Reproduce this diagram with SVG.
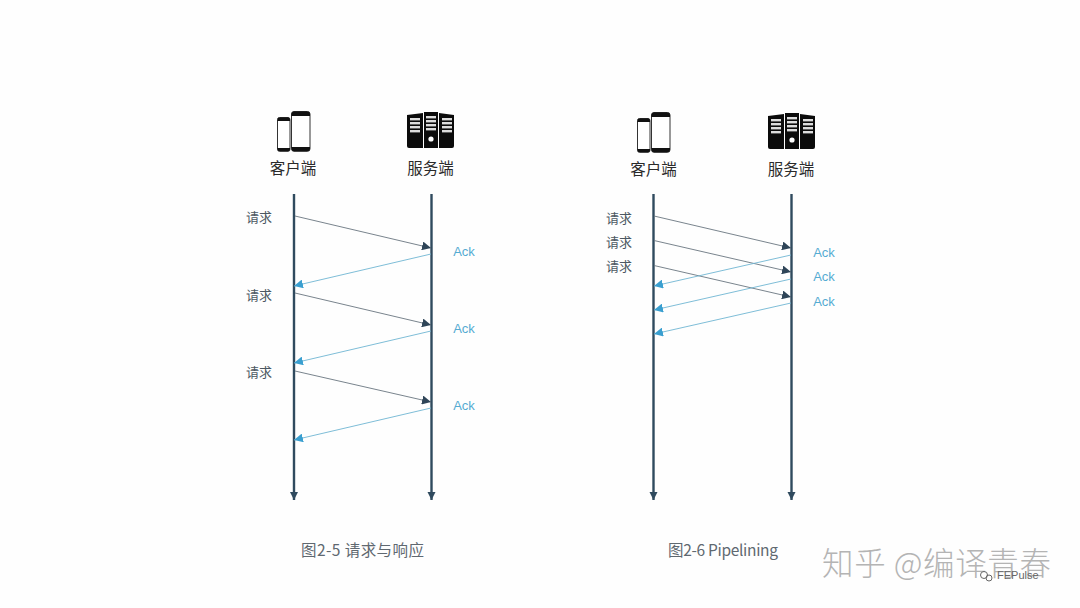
<svg xmlns="http://www.w3.org/2000/svg" width="1080" height="608" viewBox="0 0 1080 608">
<style>
text{font-family:"Liberation Sans","Noto Sans CJK SC",sans-serif}
.cjk{font-family:"Noto Sans CJK SC","Liberation Sans",sans-serif}
.title{font-size:15.5px;fill:#2a2a2a;text-anchor:middle}
.req{font-size:13px;fill:#4c5862;text-anchor:middle}
.ack{font-size:13px;fill:#55abd2;text-anchor:middle}
.cap{font-size:15.500px;fill:#5f6870;text-anchor:middle}
.life{stroke:#2f4a5e;stroke-width:2.4;fill:none;marker-end:url(#lifeEnd)}
.send{stroke:#6a7680;stroke-width:.9;fill:none;marker-end:url(#sendEnd)}
.back{stroke:#6fb6d2;stroke-width:.9;fill:none;marker-end:url(#backEnd)}
.wm{font-size:31.500px;font-weight:300;fill:#b4b4b4}
</style>
<defs>
<marker id="lifeEnd" markerUnits="userSpaceOnUse" markerWidth="9" markerHeight="10" refX="8" refY="4" orient="auto"><path d="M0 0L8 4L0 8Z" fill="#2f4a5e"/></marker>
<marker id="sendEnd" markerUnits="userSpaceOnUse" markerWidth="10" markerHeight="9" refX="9" refY="4.500" orient="auto"><path d="M0 0L9 4.500L0 9Z" fill="#2f4558"/></marker>
<marker id="backEnd" markerUnits="userSpaceOnUse" markerWidth="10" markerHeight="9" refX="9" refY="4.500" orient="auto"><path d="M0 0L9 4.500L0 9Z" fill="#3a9fd0"/></marker>
<g id="phones">
<rect x="0.500" y="6.500" width="12.500" height="33.800" rx="2" fill="#fff" stroke="#333" stroke-width="1"/>
<path d="M0.500 10V8.500Q0.500 6.500 2.500 6.500H11Q13 6.500 13 8.500V10ZM0.500 37H13V38.500Q13 40.300 11 40.300H2.500Q0.500 40.300 0.500 38.500Z" fill="#111"/>
<rect x="14.500" y="0.500" width="18.500" height="39.800" rx="2.500" fill="#fff" stroke="#333" stroke-width="1"/>
<path d="M14.500 5V3Q14.500 0.500 17 0.500H30.500Q33 0.500 33 3V5ZM14.500 36H33V38Q33 40.300 30.500 40.300H17Q14.500 40.300 14.500 38Z" fill="#111"/>
</g>
<g id="servers">
<path d="M0 3L16 1V36H2Q0 36 0 34Z" fill="#0b0b0b"/>
<path d="M47 3L32 1V36H45Q47 36 47 34Z" fill="#0b0b0b"/>
<rect x="17" y="0" width="14" height="36" fill="#0b0b0b"/>
<g fill="#ddd"><rect x="3" y="6" width="10" height="2.400"/><rect x="3" y="10" width="10" height="2.400"/><rect x="3" y="14" width="10" height="2.400"/><rect x="3" y="18" width="10" height="2.400"/><rect x="19" y="4" width="10" height="2.400"/><rect x="19" y="8" width="10" height="2.400"/><rect x="19" y="12" width="10" height="2.400"/><rect x="19" y="16" width="10" height="2.400"/><rect x="35" y="6" width="10" height="2.400"/><rect x="35" y="10" width="10" height="2.400"/><rect x="35" y="14" width="10" height="2.400"/><rect x="35" y="18" width="10" height="2.400"/></g>
<circle cx="24" cy="27" r="2.600" fill="#fff"/>
</g>
</defs>
<rect width="1080" height="608" fill="#fefefe"/>
<g id="connectors">
<line class="life" x1="294" y1="194" x2="294" y2="500"/>
<line class="life" x1="431.500" y1="194" x2="431.500" y2="500"/>
<line class="life" x1="653.500" y1="194" x2="653.500" y2="500"/>
<line class="life" x1="791.500" y1="194" x2="791.500" y2="500"/>
<line class="send" x1="295" y1="216" x2="431" y2="248"/>
<line class="back" x1="431" y1="254" x2="294" y2="286"/>
<line class="send" x1="295" y1="293" x2="431" y2="325"/>
<line class="back" x1="431" y1="331" x2="294" y2="363"/>
<line class="send" x1="295" y1="371" x2="431" y2="402"/>
<line class="back" x1="431" y1="408" x2="294" y2="440"/>
<line class="send" x1="654" y1="216" x2="791" y2="248"/>
<line class="send" x1="654" y1="240.500" x2="791" y2="272"/>
<line class="send" x1="654" y1="265.500" x2="791" y2="297"/>
<line class="back" x1="791" y1="255" x2="654" y2="286"/>
<line class="back" x1="791" y1="279" x2="654" y2="310"/>
<line class="back" x1="791" y1="303" x2="654" y2="334"/>
</g>
<g id="client-left"><use href="#phones" x="277" y="111"/><text class="title cjk" x="293" y="174">客户端</text></g>
<g id="server-left"><use href="#servers" x="407" y="112"/><text class="title cjk" x="430.500" y="174">服务端</text></g>
<g id="client-right"><use href="#phones" x="637" y="112"/><text class="title cjk" x="653.500" y="175">客户端</text></g>
<g id="server-right"><use href="#servers" x="768" y="113"/><text class="title cjk" x="791" y="175">服务端</text></g>
<g id="labels-left">
<text class="req cjk" x="259" y="222">请求</text><text class="req cjk" x="259" y="300">请求</text><text class="req cjk" x="259" y="377">请求</text>
<text class="ack" x="464" y="256">Ack</text><text class="ack" x="464" y="333">Ack</text><text class="ack" x="464" y="410">Ack</text>
</g>
<g id="labels-right">
<text class="req cjk" x="619" y="223">请求</text><text class="req cjk" x="619" y="247">请求</text><text class="req cjk" x="619" y="271">请求</text>
<text class="ack" x="824" y="257">Ack</text><text class="ack" x="824" y="281">Ack</text><text class="ack" x="824" y="306">Ack</text>
</g>
<text id="caption-left" class="cap cjk" x="362.500" y="556" textLength="123">图2-5 请求与响应</text>
<text id="caption-right" class="cap cjk" x="723" y="556" textLength="110">图2-6 Pipelining</text>
<g id="watermark">
<text class="wm cjk" x="822" y="575" textLength="229">知乎 @编译青春</text>
<circle cx="984" cy="575" r="3.500" fill="none" stroke="#666" stroke-width="1"/>
<circle cx="989" cy="578" r="3" fill="none" stroke="#666" stroke-width="1"/>
<text x="997" y="579" font-size="11" fill="#666">FEPulse</text>
</g>
</svg>
